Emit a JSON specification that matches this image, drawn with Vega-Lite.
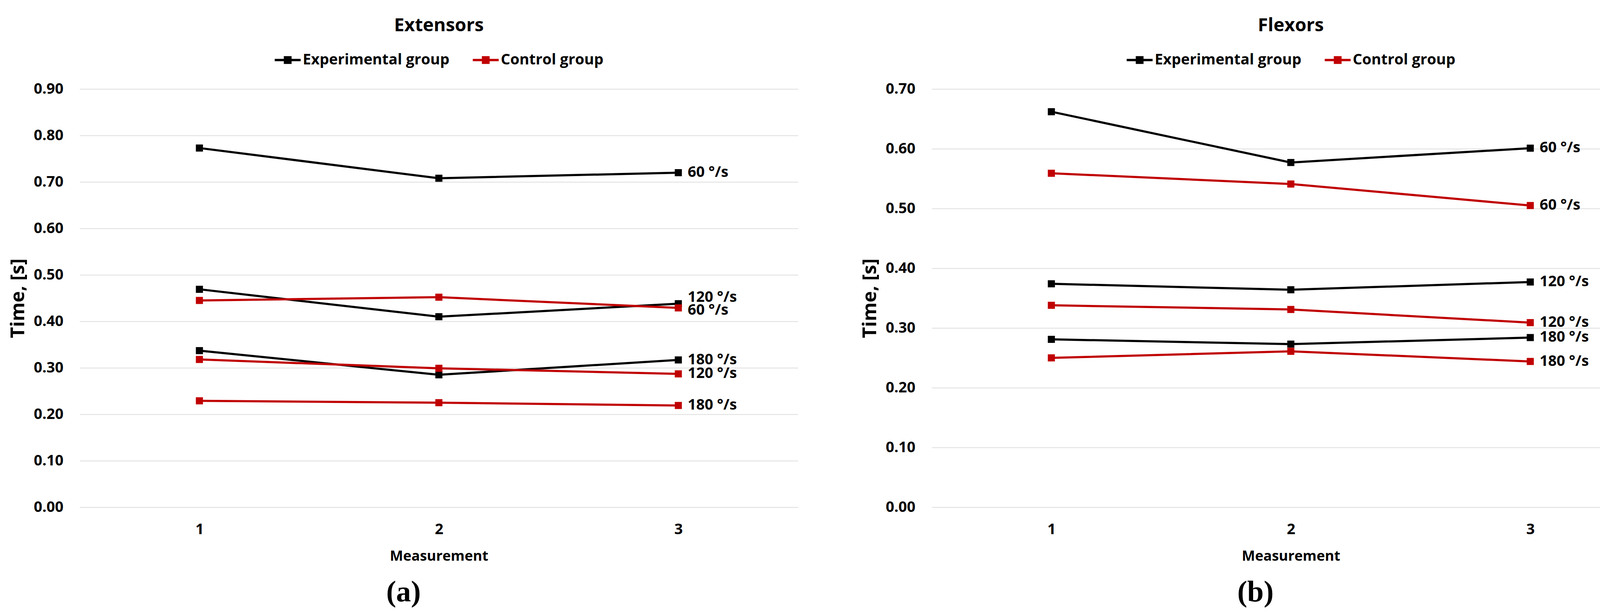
{
  "$schema": "https://vega.github.io/schema/vega-lite/v6.json",
  "background": "white",
  "padding": {"left": 22, "top": 42, "right": 5, "bottom": 5},
  "datasets": {
    "ext": [
      {"group": "Experimental group", "speed": "60 °/s", "measurement": 1, "time": 0.773},
      {"group": "Experimental group", "speed": "60 °/s", "measurement": 2, "time": 0.708},
      {"group": "Experimental group", "speed": "60 °/s", "measurement": 3, "time": 0.720},
      {"group": "Experimental group", "speed": "120 °/s", "measurement": 1, "time": 0.469},
      {"group": "Experimental group", "speed": "120 °/s", "measurement": 2, "time": 0.410},
      {"group": "Experimental group", "speed": "120 °/s", "measurement": 3, "time": 0.438},
      {"group": "Experimental group", "speed": "180 °/s", "measurement": 1, "time": 0.337},
      {"group": "Experimental group", "speed": "180 °/s", "measurement": 2, "time": 0.285},
      {"group": "Experimental group", "speed": "180 °/s", "measurement": 3, "time": 0.317},
      {"group": "Control group", "speed": "60 °/s", "measurement": 1, "time": 0.445},
      {"group": "Control group", "speed": "60 °/s", "measurement": 2, "time": 0.452},
      {"group": "Control group", "speed": "60 °/s", "measurement": 3, "time": 0.429},
      {"group": "Control group", "speed": "120 °/s", "measurement": 1, "time": 0.318},
      {"group": "Control group", "speed": "120 °/s", "measurement": 2, "time": 0.299},
      {"group": "Control group", "speed": "120 °/s", "measurement": 3, "time": 0.287},
      {"group": "Control group", "speed": "180 °/s", "measurement": 1, "time": 0.229},
      {"group": "Control group", "speed": "180 °/s", "measurement": 2, "time": 0.225},
      {"group": "Control group", "speed": "180 °/s", "measurement": 3, "time": 0.219}
    ],
    "flex": [
      {"group": "Experimental group", "speed": "60 °/s", "measurement": 1, "time": 0.662},
      {"group": "Experimental group", "speed": "60 °/s", "measurement": 2, "time": 0.577},
      {"group": "Experimental group", "speed": "60 °/s", "measurement": 3, "time": 0.601},
      {"group": "Experimental group", "speed": "120 °/s", "measurement": 1, "time": 0.374},
      {"group": "Experimental group", "speed": "120 °/s", "measurement": 2, "time": 0.364},
      {"group": "Experimental group", "speed": "120 °/s", "measurement": 3, "time": 0.377},
      {"group": "Experimental group", "speed": "180 °/s", "measurement": 1, "time": 0.281},
      {"group": "Experimental group", "speed": "180 °/s", "measurement": 2, "time": 0.273},
      {"group": "Experimental group", "speed": "180 °/s", "measurement": 3, "time": 0.284},
      {"group": "Control group", "speed": "60 °/s", "measurement": 1, "time": 0.559},
      {"group": "Control group", "speed": "60 °/s", "measurement": 2, "time": 0.541},
      {"group": "Control group", "speed": "60 °/s", "measurement": 3, "time": 0.505},
      {"group": "Control group", "speed": "120 °/s", "measurement": 1, "time": 0.338},
      {"group": "Control group", "speed": "120 °/s", "measurement": 2, "time": 0.331},
      {"group": "Control group", "speed": "120 °/s", "measurement": 3, "time": 0.309},
      {"group": "Control group", "speed": "180 °/s", "measurement": 1, "time": 0.250},
      {"group": "Control group", "speed": "180 °/s", "measurement": 2, "time": 0.261},
      {"group": "Control group", "speed": "180 °/s", "measurement": 3, "time": 0.244}
    ]
  },
  "hconcat": [
    {
      "title": {"text": "(a)", "orient": "bottom", "font": "Liberation Serif", "fontSize": 76, "fontWeight": "bold", "offset": 38},
      "resolve": {"legend": {"fill": "independent"}},
      "vconcat": [
        {
          "width": 1839,
          "height": 1071,
          "title": {"text": "Extensors"},
          "data": {"name": "ext"},
          "encoding": {
            "x": {"field": "measurement", "type": "ordinal", "title": "Measurement", "scale": {"padding": 0.5}, "axis": {"labelAngle": 0, "grid": false}},
            "y": {"field": "time", "type": "quantitative", "title": "Time, [s]", "scale": {"domain": [0, 0.9], "nice": false}, "axis": {"format": ".2f", "values": [0, 0.1, 0.2, 0.3, 0.4, 0.5, 0.6, 0.7, 0.8, 0.9]}}
          },
          "layer": [
            {
              "mark": {"type": "line", "strokeWidth": 5.5},
              "encoding": {
                "stroke": {"field": "group", "type": "nominal", "scale": {"domain": ["Experimental group", "Control group"], "range": ["#000000", "#c00000"]}, "legend": null},
                "detail": {"field": "speed"}
              }
            },
            {
              "mark": {"type": "point", "shape": "square", "filled": true, "size": 330, "opacity": 1, "strokeWidth": 0},
              "encoding": {
                "fill": {"field": "group", "type": "nominal", "scale": {"domain": ["Experimental group", "Control group"], "range": ["#000000", "#c00000"]},
                  "legend": {"orient": "top", "direction": "horizontal", "title": null, "symbolType": "M-1,-0.09H1V0.09H-1Z M-0.3,-0.3H0.3V0.3H-0.3Z", "symbolSize": 4400, "symbolStrokeWidth": 0}}
              }
            },
            {
              "transform": [{"filter": "datum.measurement == 3 && !(datum.group == 'Experimental group' && datum.speed == '120 °/s') && !(datum.group == 'Control group' && datum.speed == '60 °/s')"}],
              "mark": {"type": "text", "align": "left", "baseline": "middle", "dx": 24, "font": "Open Sans", "fontWeight": "bold", "fontSize": 38, "color": "#000000"},
              "encoding": {"text": {"field": "speed"}}
            },
            {
              "transform": [{"filter": "datum.measurement == 3 && datum.group == 'Experimental group' && datum.speed == '120 °/s'"}],
              "mark": {"type": "text", "align": "left", "baseline": "middle", "dx": 24, "dy": -16, "font": "Open Sans", "fontWeight": "bold", "fontSize": 38, "color": "#000000"},
              "encoding": {"text": {"field": "speed"}}
            },
            {
              "transform": [{"filter": "datum.measurement == 3 && datum.group == 'Control group' && datum.speed == '60 °/s'"}],
              "mark": {"type": "text", "align": "left", "baseline": "middle", "dx": 24, "dy": 7, "font": "Open Sans", "fontWeight": "bold", "fontSize": 38, "color": "#000000"},
              "encoding": {"text": {"field": "speed"}}
            }
          ]
        }
      ]
    },
    {
      "title": {"text": "(b)", "orient": "bottom", "font": "Liberation Serif", "fontSize": 76, "fontWeight": "bold", "offset": 38},
      "resolve": {"legend": {"fill": "independent"}},
      "vconcat": [
        {
          "width": 1839,
          "height": 1071,
          "title": {"text": "Flexors"},
          "data": {"name": "flex"},
          "encoding": {
            "x": {"field": "measurement", "type": "ordinal", "title": "Measurement", "scale": {"padding": 0.5}, "axis": {"labelAngle": 0, "grid": false}},
            "y": {"field": "time", "type": "quantitative", "title": "Time, [s]", "scale": {"domain": [0, 0.7], "nice": false}, "axis": {"format": ".2f", "values": [0, 0.1, 0.2, 0.3, 0.4, 0.5, 0.6, 0.7]}}
          },
          "layer": [
            {
              "mark": {"type": "line", "strokeWidth": 5.5},
              "encoding": {
                "stroke": {"field": "group", "type": "nominal", "scale": {"domain": ["Experimental group", "Control group"], "range": ["#000000", "#c00000"]}, "legend": null},
                "detail": {"field": "speed"}
              }
            },
            {
              "mark": {"type": "point", "shape": "square", "filled": true, "size": 330, "opacity": 1, "strokeWidth": 0},
              "encoding": {
                "fill": {"field": "group", "type": "nominal", "scale": {"domain": ["Experimental group", "Control group"], "range": ["#000000", "#c00000"]},
                  "legend": {"orient": "top", "direction": "horizontal", "title": null, "symbolType": "M-1,-0.09H1V0.09H-1Z M-0.3,-0.3H0.3V0.3H-0.3Z", "symbolSize": 4400, "symbolStrokeWidth": 0}}
              }
            },
            {
              "transform": [{"filter": "datum.measurement == 3"}],
              "mark": {"type": "text", "align": "left", "baseline": "middle", "dx": 24, "font": "Open Sans", "fontWeight": "bold", "fontSize": 38, "color": "#000000"},
              "encoding": {"text": {"field": "speed"}}
            }
          ]
        }
      ]
    }
  ],
  "spacing": 160,
  "resolve": {"scale": {"fill": "independent", "stroke": "independent"}, "legend": {"fill": "independent"}},
  "config": {
    "view": {"stroke": null},
    "font": "Open Sans",
    "title": {"font": "Open Sans", "fontSize": 47, "fontWeight": "bold", "color": "#000000", "anchor": "middle", "offset": 30},
    "axis": {
      "labelFont": "Open Sans", "labelFontSize": 38, "labelFontWeight": "bold", "labelColor": "#000000",
      "titleFont": "Open Sans", "titleFontWeight": "bold", "titleColor": "#000000",
      "domain": false, "ticks": false, "gridColor": "#dedede", "gridWidth": 2
    },
    "axisX": {"labelPadding": 38, "titleFontSize": 36, "titlePadding": 32},
    "axisY": {"labelPadding": 42, "titleFontSize": 49, "titlePadding": 14},
    "legend": {
      "labelFont": "Open Sans", "labelFontSize": 38, "labelFontWeight": "bold", "labelColor": "#000000", "labelLimit": 1000,
      "labelOffset": 5, "columnPadding": 59, "offset": 55,
      "layout": {"offset": 18, "direction": "horizontal", "left": {"direction": "vertical"}, "right": {"direction": "vertical"}, "top": {"anchor": "middle"}}
    }
  }
}
